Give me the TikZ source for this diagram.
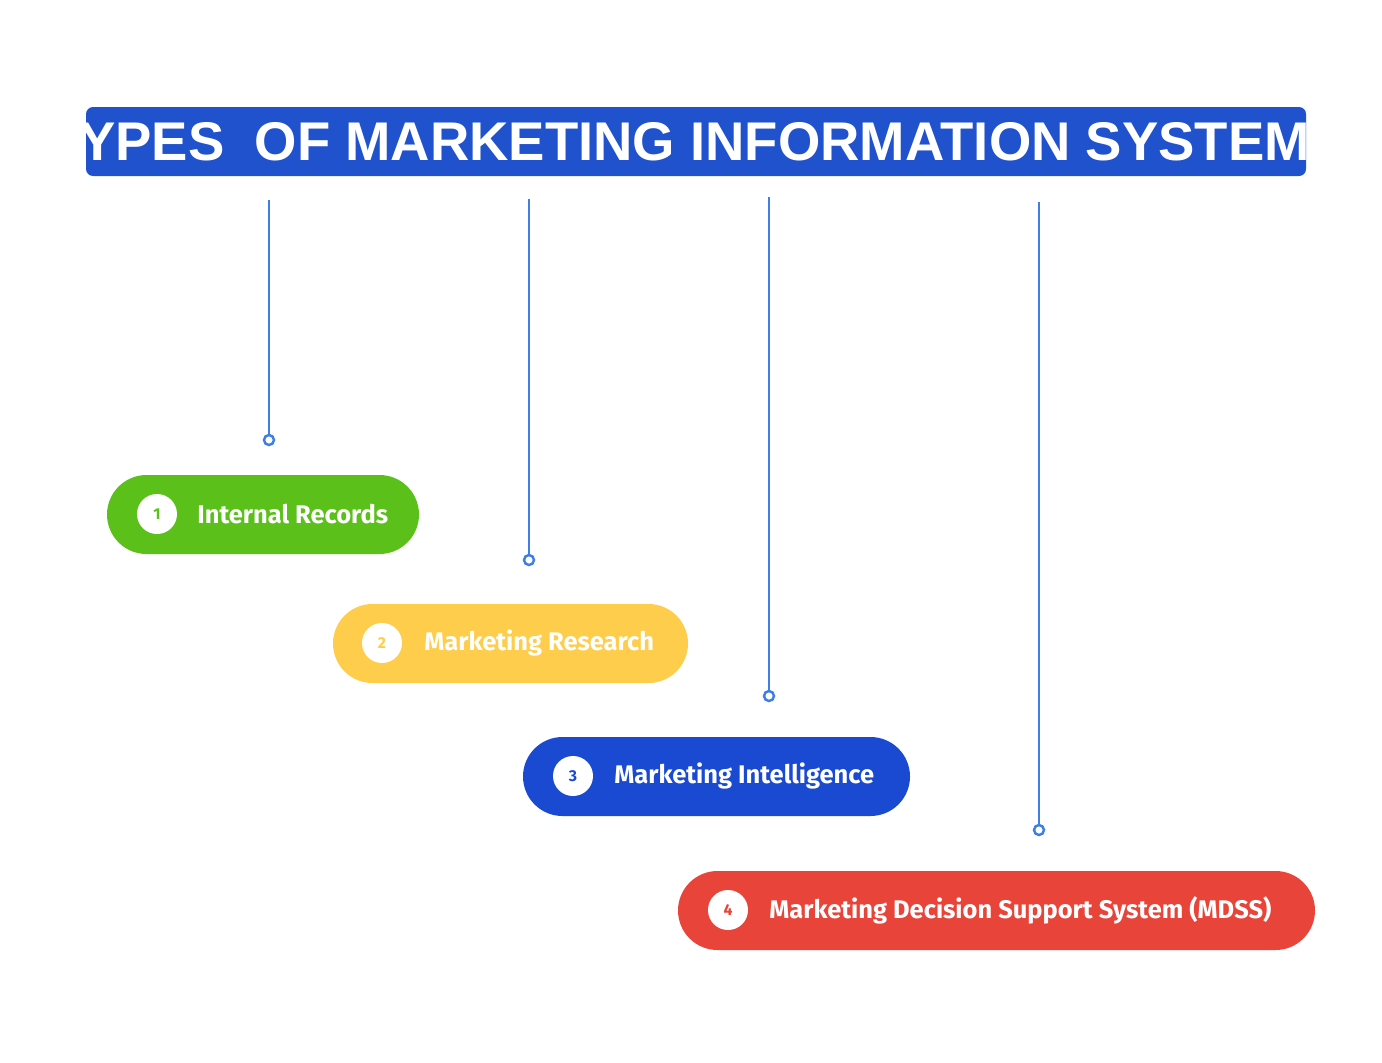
\documentclass[tikz,border=0pt]{standalone}
\usepackage{fontspec}
\setmainfont{Fira Sans}
\newfontfamily\titlefont{Liberation Sans}
\definecolor{tblue}{HTML}{1F52CC}
\definecolor{lblue}{HTML}{3F7FE3}
\definecolor{cgreen}{HTML}{5CC01B}
\definecolor{cyellow}{HTML}{FFCD4C}
\definecolor{cblue}{HTML}{1B4AD2}
\definecolor{cred}{HTML}{E8443A}
\begin{document}
\begin{tikzpicture}[x=0.02cm,y=-0.02cm,
  pill/.style={draw=none,rounded corners=39.5*0.02cm},
  lab/.style={anchor=west,text=white,font=\fontsize{14.5}{16}\selectfont\bfseries,inner sep=0},
  num/.style={circle,fill=white,minimum size=40*0.02cm,inner sep=0,font=\fontsize{9}{10}\selectfont\bfseries},
  conn/.style={lblue,line width=1.6pt},
  dot/.style={circle,draw=lblue,line width=1.4pt,fill=white,minimum size=10*0.02cm,inner sep=0}]
\useasboundingbox[fill=white] (0,0) rectangle (1382,1062);
\fill[tblue,rounded corners=4] (86,107) rectangle (1306,176);
\node[text=white,font=\titlefont\fontsize{31}{34}\selectfont\bfseries] (title) at (696,142) {TYPES\ \ OF MARKETING INFORMATION SYSTEMS};
\foreach \x/\a/\b/\n in {269/200/440/d1,529/199/560/d2,769/197/696/d3,1039/202/830/d4}{
  \coordinate (\n t) at (\x,\a);
  \node[dot] (\n) at (\x,\b) {};
  \draw[conn] (\n t) -- (\n.north);
}
\fill[cgreen,pill] (107,475) rectangle (419,554);
\fill[cyellow,pill] (333,604) rectangle (688,683);
\fill[cblue,pill] (523,737) rectangle (910,816);
\fill[cred,pill] (678,871) rectangle (1315,950);
\node[num,text=cgreen] (n1) at (157,514) {1};
\node[num,text=cyellow] (n2) at (382,643) {2};
\node[num,text=cblue] (n3) at (573,776) {3};
\node[num,text=cred] (n4) at (728,910) {4};
\node[lab] (l1) at (197,514) {Internal Records};
\node[lab] (l2) at (424,643) {Marketing Research};
\node[lab] (l3) at (614,776) {Marketing Intelligence};
\node[lab] (l4) at (769,910) {Marketing Decision Support System (MDSS)};
\end{tikzpicture}
\end{document}
